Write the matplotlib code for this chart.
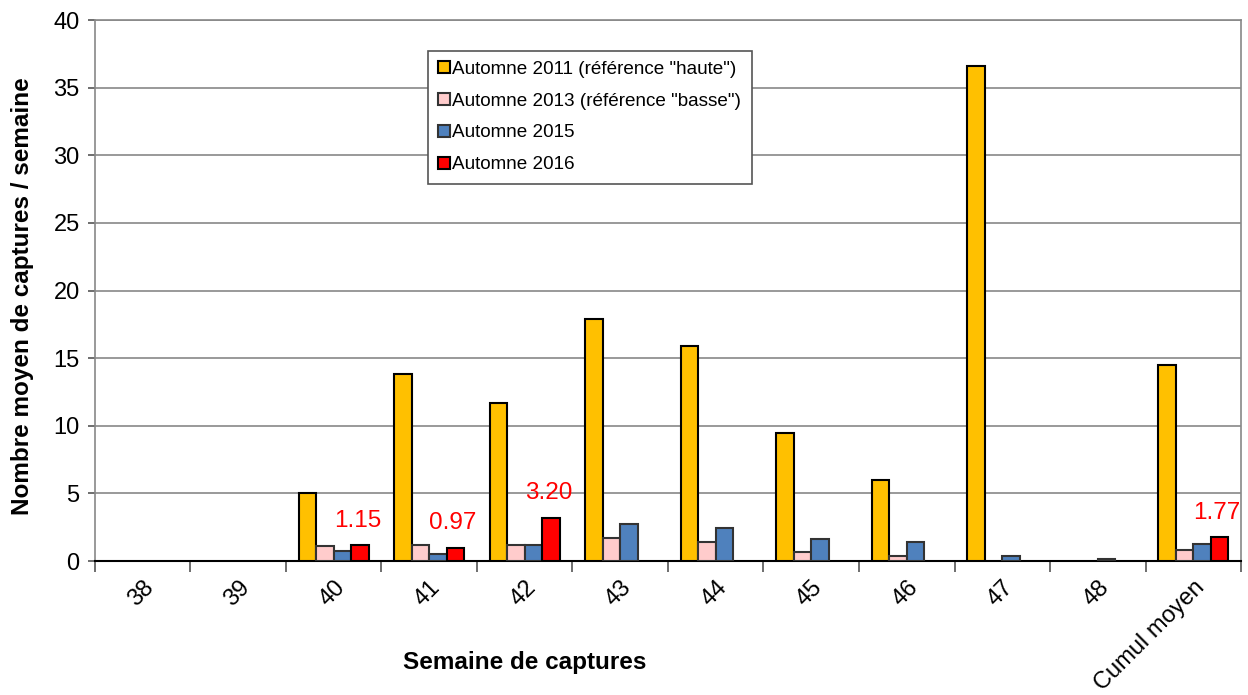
import numpy as np
import matplotlib.pyplot as plt

plt.rcParams['font.family'] = ['Liberation Sans', 'DejaVu Sans']

# data
semaines = ['38', '39', '40', '41', '42', '43', '44', '45', '46', '47', '48', 'Cumul moyen']
automne_2011 = [0, 0, 5.0, 13.8, 11.7, 17.9, 15.9, 9.45, 6.0, 36.6, 0, 14.5]
automne_2013 = [0, 0, 1.1, 1.15, 1.15, 1.73, 1.44, 0.64, 0.4, 0, 0, 0.82]
automne_2015 = [0, 0, 0.74, 0.54, 1.21, 2.72, 2.42, 1.63, 1.38, 0.37, 0.17, 1.23]
automne_2016 = [np.nan, np.nan, 1.15, 0.97, 3.20, np.nan, np.nan, np.nan, np.nan, np.nan, np.nan, 1.77]
etiquettes_2016 = {2: '1.15', 3: '0.97', 4: '3.20', 11: '1.77'}

series = [
    ('Automne 2011 (référence "haute")', automne_2011, '#FFC000', 'black'),
    ('Automne 2013 (référence "basse")', automne_2013, '#FFCCCC', '#333333'),
    ('Automne 2015', automne_2015, '#4F81BD', '#333333'),
    ('Automne 2016', automne_2016, '#FF0000', 'black'),
]

fig = plt.figure(figsize=(12.48, 6.95), dpi=100)
ax = fig.add_axes([0.0761, 0.1928, 0.9183, 0.7784])

x = np.arange(len(semaines))
w = 0.183
for i, (nom, vals, col, edge) in enumerate(series):
    vals = np.array(vals, dtype=float)
    mask = ~np.isnan(vals) & (vals > 0)
    ax.bar(x[mask] + (i - 1.5) * w, vals[mask], width=w, color=col,
           edgecolor=edge, linewidth=1.5, label=nom, zorder=3)

for idx, txt in etiquettes_2016.items():
    ax.text(x[idx] + 0.25, automne_2016[idx] + 1.0, txt, color='red',
            fontsize=17.5, ha='center', va='bottom', zorder=4)

ax.set_xlim(-0.5, len(semaines) - 0.5)
ax.set_ylim(0, 40)
ax.set_yticks(np.arange(0, 41, 5))
ax.yaxis.grid(True, color='#888888', linewidth=1.2, zorder=0)
ax.set_axisbelow(True)

ax.set_xticks(x)
ax.set_xticklabels(semaines, rotation=45, ha='right', rotation_mode='anchor', fontsize=17)
ax.tick_params(axis='x', which='major', length=0, pad=11)
ax.set_xticks(np.arange(-0.5, len(semaines), 1), minor=True)
ax.tick_params(axis='x', which='minor', length=8, color='#555555', width=1.2)
ax.tick_params(axis='y', labelsize=17, length=5, color='#555555', width=1.2, pad=6)

for s in ['top', 'right', 'left']:
    ax.spines[s].set_color('#888888')
    ax.spines[s].set_linewidth(1.2)
ax.spines['bottom'].set_color('black')
ax.spines['bottom'].set_linewidth(1.5)

ax.set_ylabel('Nombre moyen de captures / semaine', fontsize=17.5, fontweight='bold')
ax.yaxis.set_label_coords(-0.053, 0.49)
ax.set_xlabel('Semaine de captures', fontsize=17.5, fontweight='bold')
ax.xaxis.set_label_coords(0.375, -0.167)

leg = ax.legend(loc='upper left', bbox_to_anchor=(0.2905, 0.9435), fontsize=13.6,
                fancybox=False, framealpha=1, edgecolor='#555555',
                handlelength=0.6, handleheight=0.6, handletextpad=0.15,
                labelspacing=0.78, borderpad=0.55, borderaxespad=0)
leg.get_frame().set_linewidth(1.2)

fig.savefig('out.png', dpi=100)
